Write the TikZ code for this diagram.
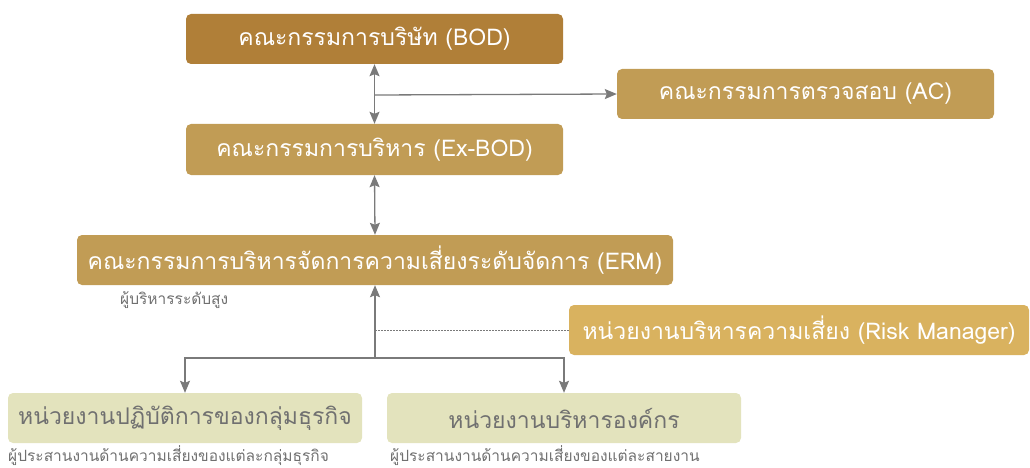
\documentclass[tikz,border=0pt]{standalone}
\usepackage{fontspec}
\setmainfont{Liberation Sans}
\newfontfamily\thaifont[Script=Thai]{Loma}
\usetikzlibrary{arrows.meta,calc}
\definecolor{cBOD}{HTML}{B07F38}
\definecolor{cMid}{HTML}{C19C55}
\definecolor{cRM}{HTML}{D9B25F}
\definecolor{cLow}{HTML}{E3E3BD}
\definecolor{cGray}{HTML}{707070}
\definecolor{cLine}{HTML}{7A7A7A}
\tikzset{
  box/.style={rounded corners=5pt, inner sep=0pt, text=white, font=\thaifont\fontsize{23}{27}\selectfont},
  lowbox/.style={box, fill=cLow, text=cGray, font=\thaifont\fontsize{23}{27}\selectfont},
  lbl/.style={anchor=west, inner sep=0pt, text=cGray, font=\thaifont\fontsize{15.5}{18}\selectfont},
  tip/.tip={Stealth[length=12pt,width=10pt,inset=2pt]},
  conn/.style={draw=cLine, line width=1.3pt, -tip},
  dconn/.style={draw=cLine, line width=1.3pt, tip-tip},
  dotconn/.style={draw=cLine, line width=0.8pt, dash pattern=on 1.5pt off 1.5pt},
}
\begin{document}
\begin{tikzpicture}[x=1pt,y=-1pt]
\useasboundingbox (0,0) rectangle (1030,468);
\node[box, fill=cBOD, minimum width=377pt, minimum height=50pt] (BOD) at (374.5,39) {คณะกรรมการบริษัท (BOD)};
\node[box, fill=cMid, minimum width=377pt, minimum height=50pt] (AC) at (805.5,94) {คณะกรรมการตรวจสอบ (AC)};
\node[box, fill=cMid, minimum width=377pt, minimum height=51pt] (EX) at (374.5,149.5) {คณะกรรมการบริหาร (Ex-BOD)};
\node[box, fill=cMid, minimum width=596pt, minimum height=50pt] (ERM) at (375,260) {คณะกรรมการบริหารจัดการความเสี่ยงระดับจัดการ (ERM)};
\node[box, fill=cRM, minimum width=460pt, minimum height=50pt] (RM) at (799,330) {หน่วยงานบริหารความเสี่ยง (Risk Manager)};
\node[lowbox, minimum width=354pt, minimum height=50pt] (OP) at (185,418) {หน่วยงานปฏิบัติการของกลุ่มธุรกิจ};
\node[lowbox, minimum width=354pt, minimum height=50pt] (ORG) at (564,418) {หน่วยงานบริหารองค์กร};
\node[lbl] (L1) at (120,300) {ผู้บริหารระดับสูง};
\node[lbl] (L2) at (8,456) {ผู้ประสานงานด้านความเสี่ยงของแต่ละกลุ่มธุรกิจ};
\node[lbl] (L3) at (390,456) {ผู้ประสานงานด้านความเสี่ยงของแต่ละสายงาน};
\coordinate (j1) at (375,95);
\coordinate (j2) at (375,358);
\coordinate (j3) at (375,330);
\draw[dconn] (BOD.south) -- (EX.north);
\draw[conn] (j1) -- (AC.west);
\draw[dconn] (EX.south) -- (ERM.north);
\draw[conn] (j2) -- (ERM.south);
\draw[conn] (j2) -| (OP.north);
\draw[conn] (j2) -| (ORG.north);
\draw[dotconn] (j3) -- (RM.west);
\end{tikzpicture}
\end{document}
